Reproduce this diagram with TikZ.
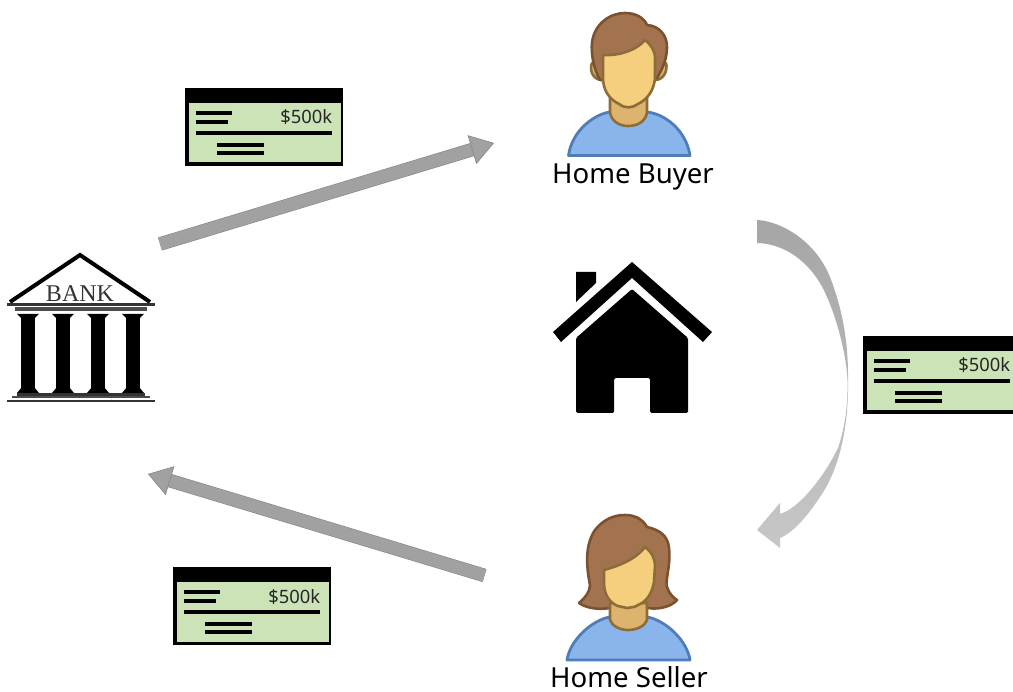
\documentclass[tikz,border=0pt]{standalone}
\usepackage{fontspec}
\setmainfont{DejaVu Sans}
\newfontfamily\labelfont{Noto Sans}
\newfontfamily\bankfont{Liberation Serif}
\usetikzlibrary{arrows.meta,calc,shadings}
\definecolor{chkgreen}{HTML}{CCE3B8}
\definecolor{shirt}{HTML}{8AB4EC}
\definecolor{shirtedge}{HTML}{4F7DB8}
\definecolor{skin}{HTML}{F5CE7E}
\definecolor{neckc}{HTML}{DDB36E}
\definecolor{skinedge}{HTML}{8C6D3A}
\definecolor{hair}{HTML}{A3734F}
\definecolor{hairedge}{HTML}{7A5230}
\tikzset{
  blockarrow/.style={double=black!37,double distance=12.4pt,line width=.6pt,draw=black!47,
    -{Triangle[length=23pt,width=30pt,fill=black!37,color=black!47,line width=.6pt]}},
  namelabel/.style={font=\labelfont\fontsize{27.6}{28}\selectfont,inner sep=0pt,anchor=base},
  amount/.style={font=\labelfont\fontsize{18.4}{19}\selectfont,inner sep=0pt,anchor=base east,text=black!85},
  chkline/.style={line width=3.2pt,black},
  shirtp/.style={fill=shirt,draw=shirtedge,line width=2.8pt,line join=round},
  skinp/.style={fill=skin,draw=skinedge,line width=2.6pt,line join=round},
  neckp/.style={fill=neckc,draw=skinedge,line width=2.6pt,line join=round},
  hairp/.style={fill=hair,draw=hairedge,line width=2.6pt,line join=round},
  cheque/.pic={
    \fill[black] (0,0) rectangle (158,78);
    \fill[chkgreen] (3.5,15) rectangle (155.5,74.5);
    \draw[chkline] (11,25) -- (47,25);
    \draw[chkline] (11,34) -- (43,34);
    \draw[chkline] (11,45) -- (147,45);
    \draw[chkline] (32,57) -- (79,57);
    \draw[chkline] (32,65) -- (79,65);
    \node[amount] (amt) at (147.5,36) {\$500k};
  },
  column/.pic={
    \fill[black] (-11,0) -- (11,0) -- (7,4) -- (6.8,74) -- (11,79) -- (-11,79) -- (-6.8,74) -- (-7,4) -- cycle;
  }
}
\begin{document}
\begin{tikzpicture}[x=1pt,y=-1pt]
\useasboundingbox (0,0) rectangle (1013,692);
\fill[white] (0,0) rectangle (1013,692);

% cheques
\pic[name prefix=c1-] at (185,88) {cheque};
\pic[name prefix=c2-] at (173,567) {cheque};
\begin{scope}
  \clip (0,0) rectangle (1013,692);
  \pic[name prefix=c3-] at (863,336) {cheque};
\end{scope}

% bank
\draw[black,line width=4pt,line join=miter] (10,302) -- (80,255) -- (150,302);
\node[inner sep=0pt,anchor=base,text=black!80,font=\bankfont\fontsize{24}{24}\selectfont] (banklabel) at (80,302) {BANK};
\fill[black!80] (7,303.5) rectangle (155,306.5);
\fill[black!70] (15,307.5) rectangle (147,311.5);
\foreach \cx in {28,63,98,133} \pic at (\cx,314) {column};
\fill[black!80] (17,393.5) rectangle (145,396);
\fill[black!70] (12,396.5) rectangle (150,398.5);
\fill[black!80] (7,400) rectangle (155,402);
\coordinate (bankout) at (160,244);
\coordinate (bankin) at (148,474);

% house
\fill[black] (553,332) -- (632,262) -- (712,332) -- (703,342) -- (632,278) -- (561,342) -- cycle;
\fill[black] (576,272) -- (596,272) -- (596,283) -- (576,302) -- cycle;
\fill[black,rounded corners=1.5pt] (632,289) -- (688,338) -- (688,413) -- (650,413) -- (650,378) -- (614,378) -- (614,413) -- (576,413) -- (576,338) -- cycle;

% home buyer
\draw[shirtp] (568.5,155.5) .. controls (572,130) and (595,114) .. (610,112) -- (647,112) .. controls (665,114) and (686,130) .. (690,155.5) -- cycle;
\draw[neckp] (610,98) -- (610,113) .. controls (612,122) and (620,126) .. (628,126) .. controls (637,126) and (645,122) .. (647,113) -- (647,98) -- cycle;
\draw[neckp] (592,63) .. controls (589,70) and (593,80) .. (602,80) -- (655,80) .. controls (664,80) and (668,70) .. (666,63) -- cycle;
\draw[hairp] (600,80) .. controls (593,68) and (591,52) .. (592,43) .. controls (594,24) and (610,13) .. (625,13) .. controls (636,13) and (644,18) .. (647,25) .. controls (660,26) and (667,36) .. (667,47) .. controls (667,58) and (663,68) .. (657,78) -- cycle;
\draw[skinp] (603,55) .. controls (615,56) and (635,52) .. (645,40) .. controls (650,44) and (655,50) .. (655,58) -- (655,78) .. controls (654,90) and (648,99) .. (638,104) .. controls (632,108) and (626,109) .. (619,104) .. controls (609,99) and (603,90) .. (603,78) -- cycle;
\node[namelabel] (buyer) at (633,183.5) {Home Buyer};

% home seller
\draw[shirtp] (567,660) .. controls (570,640) and (592,620) .. (610,617) -- (647,617) .. controls (665,620) and (687,640) .. (690,660) -- cycle;
\draw[hairp] (595,530) .. controls (603,520) and (613,515) .. (625,515) .. controls (636,515) and (643,520) .. (647,527) .. controls (660,530) and (668,536) .. (669,548) .. controls (671,565) and (665,580) .. (667,587) .. controls (669,594) and (674,598) .. (677,600) .. controls (672,606) and (660,610) .. (648,608) -- (610,608) .. controls (598,610) and (586,608) .. (579,603) .. controls (585,598) and (590,592) .. (590,585) .. controls (586,565) and (585,545) .. (595,530) -- cycle;
\draw[neckp] (610,603) -- (610,620) .. controls (612,626) and (620,630) .. (628,630) .. controls (637,630) and (645,626) .. (647,620) -- (647,603) -- cycle;
\draw[skinp] (604,570) .. controls (618,566) and (635,560) .. (645,547) .. controls (651,551) and (655,558) .. (655,566) -- (654,582) .. controls (652,594) and (646,602) .. (638,605) .. controls (632,609) and (631,606) .. (627,608) .. controls (623,606) and (620,608) .. (614,604) .. controls (607,599) and (604,592) .. (604,582) -- cycle;
\node[namelabel] (seller) at (629,687) {Home Seller};

% straight flows
\coordinate (buyerin) at (494,143);
\coordinate (sellerout) at (484.5,575.5);
\draw[blockarrow] (bankout) -- (buyerin);
\draw[blockarrow] (sellerout) -- (bankin);

% curved flow
\coordinate (buyerout) at (757,231.5);
\coordinate (sellerin) at (757,530);
\path[top color=black!35,bottom color=black!22,draw=none]
  (757,220) .. controls (780,221) and (815,240) .. (830,277)
  .. controls (842,308) and (848,340) .. (848,375)
  .. controls (849,420) and (842,465) .. (820,497)
  .. controls (810,512) and (796,531) .. (780,538)
  -- (780,548) -- (sellerin) -- (780,503) -- (780,514)
  .. controls (800,508) and (825,475) .. (838,448)
  .. controls (846,425) and (848,400) .. (847.5,380)
  .. controls (846,350) and (835,315) .. (827,297)
  .. controls (815,268) and (790,244) .. (757,243)
  -- cycle;
\end{tikzpicture}
\end{document}
